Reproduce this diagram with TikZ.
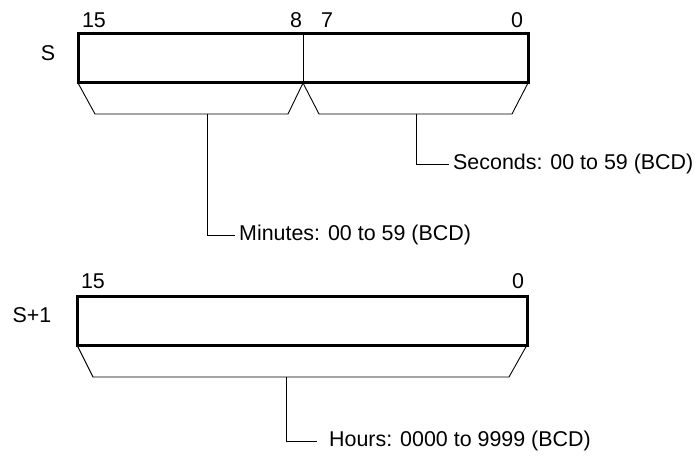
\documentclass[tikz,border=0pt]{standalone}
\usepackage{fontspec}
\setmainfont{Liberation Sans}
\usepackage{tikz}

\begin{document}
\begin{tikzpicture}[x=1bp,y=-1bp,font=\fontsize{21.5}{25}\selectfont,
    reg/.style={line width=3bp},
    thin/.style={line width=0.9bp},
    lbl/.style={anchor=west,inner sep=4bp}]
  \useasboundingbox (0,0) rectangle (699,456);
  % word S
  \draw[reg] (78,34) rectangle (528,83);
  \draw[thin] (303,34) -- (303,83);
  \node (s) at (48,53) {S};
  \node (b15) at (94,20) {15};
  \node (b8) at (296,20) {8};
  \node (b7) at (327,20) {7};
  \node (b0) at (517,20) {0};
  \draw[thin] (78,83) -- (95,114) -- (288,114) -- (303,83) -- (319,114) -- (512,114) -- (528,83);
  \coordinate (mstem) at (207,114);
  \coordinate (sstem) at (416,114);
  \node[lbl] (sec) at (449,164) {Seconds: 00 to 59 (BCD)};
  \node[lbl] (min) at (235,235) {Minutes: 00 to 59 (BCD)};
  \draw[thin] (sstem) |- (sec.west);
  \draw[thin] (mstem) |- (min.west);
  % word S+1
  \draw[reg] (77,297) rectangle (527,345);
  \node (s1) at (32,315) {S+1};
  \node (c15) at (93,281) {15};
  \node (c0) at (518,281) {0};
  \draw[thin] (77,345) -- (93,377) -- (509,377) -- (527,345);
  \coordinate (hstem) at (286,377);
  \coordinate (hend) at (317,441);
  \node[lbl,inner xsep=0pt] (hrs) at (329,441) {Hours: 0000 to 9999 (BCD)};
  \draw[thin] (hstem) |- (hend);
\end{tikzpicture}
\end{document}
